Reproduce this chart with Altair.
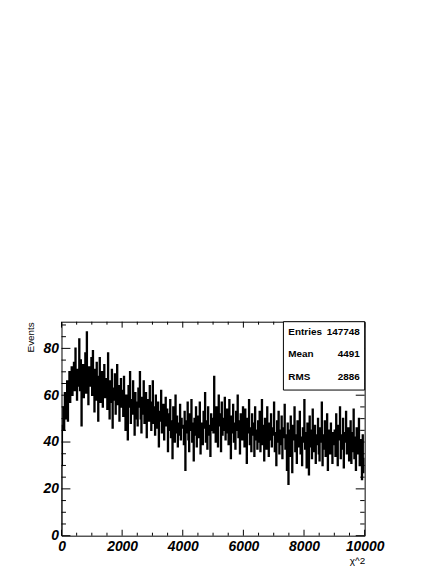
import altair as alt
import pandas as pd

# ---- data ----
bin_width = 25
counts = [
    30, 47, 55, 45, 61, 50, 58, 66, 49, 63, 70, 57, 65, 72, 60, 68, 74, 62, 80, 66,
    58, 71, 64, 84, 62, 75, 47, 68, 73, 59, 66, 78, 61, 87, 70, 56, 72, 64, 69, 76,
    60, 79, 66, 53, 71, 58, 74, 63, 49, 68, 76, 57, 65, 70, 55, 62, 73, 59, 67, 61,
    54, 78, 62, 50, 66, 57, 71, 46, 63, 58, 69, 52, 61, 73, 56, 64, 49, 60, 67, 55,
    62, 51, 68, 57, 45, 60, 53, 41, 64, 55, 70, 48, 58, 52, 66, 54, 43, 61, 57, 50,
    47, 63, 55, 70, 50, 44, 59, 52, 66, 48, 56, 61, 42, 54, 58, 49, 64, 51, 45, 57,
    66, 48, 55, 43, 60, 51, 46, 57, 38, 53, 49, 62, 44, 52, 56, 41, 50, 59, 47, 54,
    36, 52, 45, 58, 42, 49, 33, 55, 46, 40, 60, 44, 51, 38, 48, 43, 56, 41, 50, 46,
    47, 39, 53, 28, 49, 44, 57, 41, 36, 52, 45, 58, 40, 48, 32, 50, 43, 55, 38, 46,
    51, 42, 57, 35, 48, 44, 39, 53, 46, 61, 40, 49, 37, 55, 43, 47, 34, 52, 45, 50,
    44, 68, 49, 40, 55, 46, 38, 60, 47, 52, 36, 57, 43, 50, 45, 59, 41, 48, 54, 44,
    39, 58, 47, 33, 51, 44, 56, 40, 48, 37, 53, 45, 60, 42, 49, 35, 52, 46, 41, 55,
    47, 38, 54, 42, 31, 50, 44, 58, 39, 46, 36, 52, 43, 48, 34, 55, 41, 45, 37, 49,
    40, 53, 36, 45, 58, 39, 47, 32, 50, 42, 37, 55, 44, 34, 48, 41, 52, 38, 46, 43,
    57, 36, 44, 30, 49, 40, 53, 35, 45, 39, 51, 33, 46, 42, 56, 37, 43, 28, 48, 22,
    45, 34, 51, 39, 27, 47, 41, 55, 36, 43, 31, 49, 38, 44, 53, 35, 42, 30, 46, 40,
    58, 37, 44, 29, 48, 40, 26, 51, 38, 45, 33, 54, 36, 42, 47, 31, 43, 39, 50, 35,
    32, 46, 40, 57, 30, 43, 37, 49, 34, 41, 52, 28, 45, 38, 35, 48, 42, 31, 44, 39,
    45, 34, 52, 39, 30, 47, 41, 55, 33, 43, 37, 50, 29, 44, 40, 53, 35, 42, 46, 32,
    38, 49, 31, 44, 36, 54, 33, 42, 28, 46, 39, 35, 50, 30, 41, 37, 24, 43, 33, 27,
]
x_major = [0, 2000, 4000, 6000, 8000, 10000]
x_minor = [v for v in range(0, 10001, 500) if v % 2000 != 0]
y_major = [0, 20, 40, 60, 80]
y_minor = [v for v in range(0, 91, 5) if v % 20 != 0]
stat_names = ["Entries", "Mean", "RMS"]
stat_values = ["147748", "4491", "2886"]

X_MAX = 10000
Y_MAX = 91.4
W, H = 306, 216
FONT = "Liberation Sans"

# step outline: start at zero, one point per bin edge, closing point at the end
xs = [0] + [i * bin_width for i in range(len(counts))] + [len(counts) * bin_width]
ys = [0] + counts + [counts[-1]]
hist = pd.DataFrame({"x": xs, "y": ys})

xscale = alt.Scale(domain=[0, X_MAX], nice=False, zero=False)
yscale = alt.Scale(domain=[0, Y_MAX], nice=False, zero=False)

xaxis = alt.Axis(
    values=x_major, format="d", ticks=False, domain=False, grid=False,
    labelFont=FONT, labelFontSize=14, labelFontWeight="bold",
    labelFontStyle="italic", labelColor="black", labelPadding=4,
    labelFlush=False, labelOverlap=False, labelBound=False,
    title="χ^2", titleFont=FONT, titleFontSize=10, titleFontWeight="normal",
    titleColor="black", titleX=W, titleY=28, titleAlign="right",
    titleBaseline="alphabetic",
)
yaxis = alt.Axis(
    values=y_major, format="d", ticks=False, domain=False, grid=False,
    labelFont=FONT, labelFontSize=14, labelFontWeight="bold",
    labelFontStyle="italic", labelColor="black", labelPadding=3,
    labelOverlap=False, labelBound=False, labelFlush=False,
    title="Events", titleFont=FONT, titleFontSize=10, titleFontWeight="normal",
    titleColor="black", titleAngle=270, titleAlign="right",
    titleBaseline="middle", titleX=-31, titleY=0,
)

line = alt.Chart(hist).mark_line(
    interpolate="step-after", color="black", strokeWidth=1.6, clip=True
).encode(
    x=alt.X("x:Q", scale=xscale, axis=xaxis, title="χ^2"),
    y=alt.Y("y:Q", scale=yscale, axis=yaxis, title="Events"),
)

def xticks(vals, y0, y1):
    return alt.Chart(pd.DataFrame({"v": vals})).mark_rule(
        color="black", strokeWidth=1
    ).encode(
        x=alt.X("v:Q", scale=xscale, axis=xaxis, title="χ^2"),
        y=alt.value(y0), y2=alt.value(y1),
    )

def yticks(vals, x0, x1):
    return alt.Chart(pd.DataFrame({"v": vals})).mark_rule(
        color="black", strokeWidth=1
    ).encode(
        y=alt.Y("v:Q", scale=yscale, axis=yaxis, title="Events"),
        x=alt.value(x0), x2=alt.value(x1),
    )

ticks = [
    xticks(x_major, H, H - 6), xticks(x_minor, H, H - 3),
    xticks(x_major, 0, 6), xticks(x_minor, 0, 3),
    yticks(y_major, 0, 9), yticks(y_minor, 0, 4.5),
    yticks(y_major, W, W - 9), yticks(y_minor, W, W - 4.5),
]

box = alt.Chart(pd.DataFrame({"a": [0]})).mark_rect(
    fill="white", stroke="black", strokeWidth=1
).encode(
    x=alt.value(224), x2=alt.value(W), y=alt.value(0), y2=alt.value(69)
)

row_y = [10, 33, 56]
stat_layers = []
for name, val, ry in zip(stat_names, stat_values, row_y):
    df = pd.DataFrame({"n": [name], "v": [val]})
    stat_layers.append(
        alt.Chart(df).mark_text(
            align="left", baseline="middle", font=FONT, fontSize=10,
            fontWeight="bold", color="black"
        ).encode(text="n:N", x=alt.value(229), y=alt.value(ry))
    )
    stat_layers.append(
        alt.Chart(df).mark_text(
            align="right", baseline="middle", font=FONT, fontSize=10,
            fontWeight="bold", color="black"
        ).encode(text="v:N", x=alt.value(301), y=alt.value(ry))
    )

chart = alt.layer(line, *ticks, box, *stat_layers).properties(
    width=W, height=H,
    autosize=alt.AutoSizeParams(type="none"),
    padding={"left": 54, "top": 314, "right": 70, "bottom": 33},
    background="white",
).configure_view(stroke="black", strokeWidth=1)

chart.save("out.html", embed_options={"renderer": "svg", "actions": False})
